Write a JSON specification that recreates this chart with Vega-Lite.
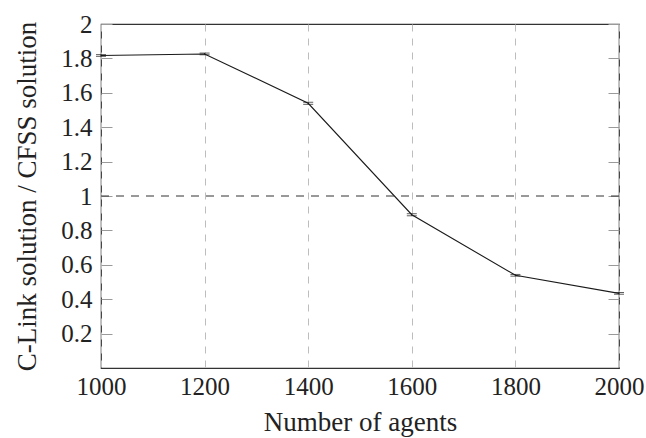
{
  "$schema": "https://vega.github.io/schema/vega-lite/v6.json",
  "autosize": "none",
  "width": 518,
  "height": 344,
  "padding": {"left": 101, "top": 24, "right": 27, "bottom": 70},
  "background": "white",
  "config": {
    "view": {"stroke": "#333333", "strokeWidth": 1.2},
    "font": "Liberation Serif, DejaVu Serif, serif",
    "axis": {
      "labelFont": "Liberation Serif, DejaVu Serif, serif",
      "titleFont": "Liberation Serif, DejaVu Serif, serif",
      "labelFontSize": 25,
      "titleFontSize": 27,
      "labelColor": "#222222",
      "titleColor": "#222222",
      "titleFontWeight": "normal",
      "domain": false
    }
  },
  "datasets": {
    "pts": [
      {"agents": 1000, "ratio": 1.817, "lo": 1.812, "hi": 1.822},
      {"agents": 1200, "ratio": 1.826, "lo": 1.821, "hi": 1.831},
      {"agents": 1400, "ratio": 1.539, "lo": 1.533, "hi": 1.545},
      {"agents": 1600, "ratio": 0.891, "lo": 0.885, "hi": 0.897},
      {"agents": 1800, "ratio": 0.539, "lo": 0.534, "hi": 0.544},
      {"agents": 2000, "ratio": 0.434, "lo": 0.429, "hi": 0.439}
    ],
    "ref": [{"level": 1}]
  },
  "resolve": {"axis": {"y": "independent"}},
  "layer": [
    {
      "data": {"name": "pts"},
      "mark": {"type": "line", "color": "#1a1a1a", "strokeWidth": 1.1, "clip": true},
      "encoding": {
        "x": {
          "field": "agents", "type": "quantitative",
          "scale": {"domain": [1000, 2000], "nice": false, "zero": false},
          "axis": {
            "title": "Number of agents",
            "values": [1000, 1200, 1400, 1600, 1800, 2000],
            "format": "d",
            "labelFlush": false,
            "grid": true, "gridColor": "#bdbdbd", "gridDash": [7, 7], "gridWidth": 1,
            "ticks": false,
            "labelPadding": 6,
            "titlePadding": 10
          }
        },
        "y": {
          "field": "ratio", "type": "quantitative",
          "scale": {"domain": [0, 2], "nice": false, "zero": true},
          "axis": {
            "orient": "left",
            "title": "C-Link solution / CFSS solution",
            "values": [0.2, 0.4, 0.6, 0.8, 1, 1.2, 1.4, 1.6, 1.8, 2],
            "format": "~g",
            "labelFlush": false,
            "grid": false,
            "ticks": true, "tickSize": -11, "tickColor": "#9a9a9a", "tickWidth": 1,
            "labelPadding": 20,
            "titlePadding": 19
          }
        }
      }
    },
    {
      "data": {"name": "pts"},
      "mark": {"type": "rule", "color": "#1a1a1a", "strokeWidth": 1},
      "encoding": {
        "x": {"field": "agents", "type": "quantitative"},
        "y": {"field": "lo", "type": "quantitative",
          "axis": {
            "orient": "right", "title": null, "labels": false, "grid": false,
            "values": [0.2, 0.4, 0.6, 0.8, 1, 1.2, 1.4, 1.6, 1.8, 2],
            "ticks": true, "tickSize": -11, "tickColor": "#9a9a9a", "tickWidth": 1
          }
        },
        "y2": {"field": "hi"}
      }
    },
    {
      "data": {"name": "pts"},
      "mark": {"type": "tick", "orient": "horizontal", "color": "#1a1a1a", "size": 10, "thickness": 1},
      "encoding": {
        "x": {"field": "agents", "type": "quantitative"},
        "y": {"field": "lo", "type": "quantitative", "axis": null}
      }
    },
    {
      "data": {"name": "pts"},
      "mark": {"type": "tick", "orient": "horizontal", "color": "#1a1a1a", "size": 10, "thickness": 1},
      "encoding": {
        "x": {"field": "agents", "type": "quantitative"},
        "y": {"field": "hi", "type": "quantitative", "axis": null}
      }
    },
    {
      "data": {"name": "ref"},
      "mark": {"type": "rule", "color": "#333333", "strokeWidth": 1, "strokeDash": [8, 7]},
      "encoding": {
        "y": {"field": "level", "type": "quantitative", "axis": null}
      }
    }
  ]
}
